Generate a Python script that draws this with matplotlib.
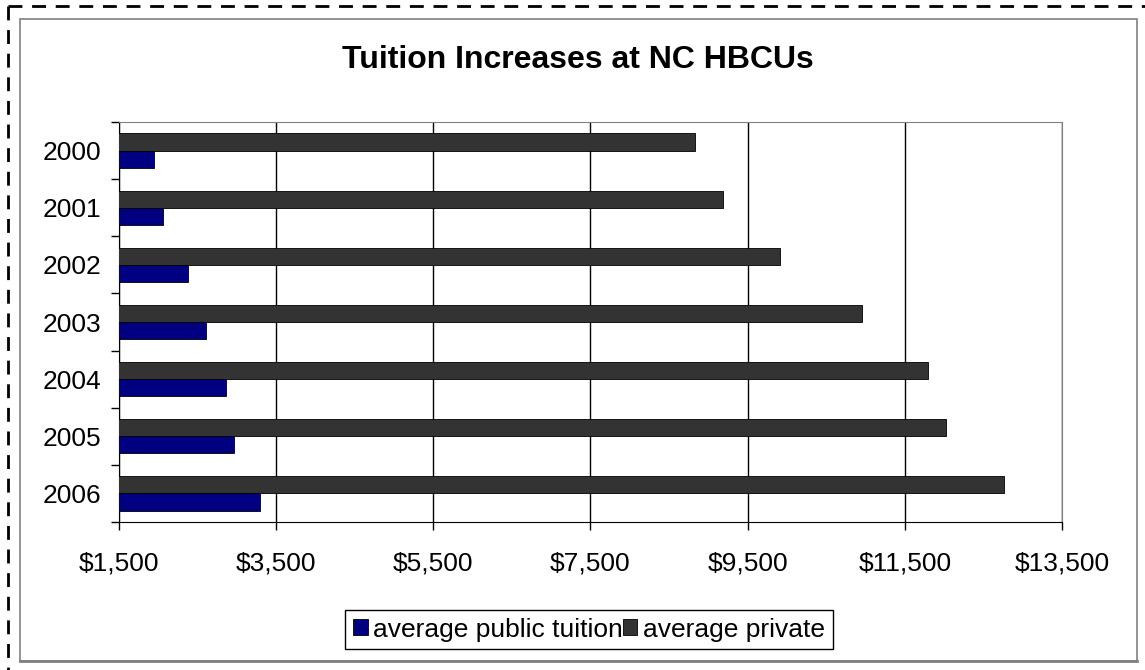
import matplotlib
matplotlib.use('Agg')
import matplotlib.pyplot as plt
from matplotlib.lines import Line2D
from matplotlib.patches import Rectangle, Patch
from matplotlib.ticker import FuncFormatter

plt.rcParams['font.family'] = ['Liberation Sans', 'DejaVu Sans']

years = ['2000', '2001', '2002', '2003', '2004', '2005', '2006']
public_tuition = [1950, 2060, 2380, 2610, 2860, 2965, 3295]
private_tuition = [8830, 9190, 9915, 10960, 11790, 12030, 12765]
x_ticks = [1500, 3500, 5500, 7500, 9500, 11500, 13500]

W, H = 1145, 670
fig = plt.figure(figsize=(W / 100, H / 100), dpi=100)

# outer dashed border (top and left only visible)
fig.add_artist(Line2D([8 / W, 1], [1 - 6 / H, 1 - 6 / H], transform=fig.transFigure,
                      color='black', lw=2, dashes=(5, 3.5)))
fig.add_artist(Line2D([8 / W, 8 / W], [1 - 6 / H, 0], transform=fig.transFigure,
                      color='black', lw=2, dashes=(5, 3.5)))
# chart area border
fig.add_artist(Rectangle((20 / W, 1 - 661 / H), 1117 / W, 642 / H, transform=fig.transFigure,
                         fill=False, edgecolor='#808080', lw=1.2))
fig.add_artist(Line2D([20 / W, 1137 / W], [1 - 661 / H, 1 - 661 / H], transform=fig.transFigure,
                      color='#808080', lw=2))

ax = fig.add_axes([119 / W, 1 - 522 / H, 943 / W, 400 / H])

pos = list(range(len(years)))
h = 0.3
ax.barh([p - h / 2 for p in pos], private_tuition, height=h, color='#333333',
        edgecolor='black', lw=0.6, zorder=3, label='average private')
ax.barh([p + h / 2 for p in pos], public_tuition, height=h, color='#000080',
        edgecolor='black', lw=0.6, zorder=3, label='average public tuition')

ax.set_xlim(1500, 13500)
ax.set_ylim(len(years) - 0.5, -0.5)
ax.set_xticks(x_ticks)
ax.xaxis.set_major_formatter(FuncFormatter(lambda v, p: '${:,.0f}'.format(v)))
ax.set_yticks(pos)
ax.set_yticklabels(years)
ax.set_yticks([p - 0.5 for p in pos] + [len(years) - 0.5], minor=True)
ax.tick_params(axis='y', which='major', length=0, pad=13, labelsize=19)
ax.tick_params(axis='y', which='minor', length=6, width=1, color='black')
ax.tick_params(axis='x', length=6, width=1, pad=15, labelsize=19)
ax.grid(axis='x', color='black', lw=1, zorder=0)

for s in ['top', 'right']:
    ax.spines[s].set_color('#808080')
for s in ['left', 'bottom']:
    ax.spines[s].set_color('black')

fig.text(578 / W, 1 - 60 / H, 'Tuition Increases at NC HBCUs', ha='center', va='center',
         fontsize=23, fontweight='bold')

handles = [Patch(facecolor='#000080', edgecolor='black', lw=0.6),
           Patch(facecolor='#333333', edgecolor='black', lw=0.6)]
leg = fig.legend(handles, ['average public tuition', 'average private'], loc='center',
                 bbox_to_anchor=(589 / W, 1 - 629.5 / H), ncol=2, fontsize=19,
                 handlelength=0.55, handleheight=0.55, handletextpad=0.2, columnspacing=0.0,
                 fancybox=False, edgecolor='black', framealpha=1, borderpad=0.3)
leg.get_frame().set_linewidth(1)

fig.savefig('out.png', dpi=100)
